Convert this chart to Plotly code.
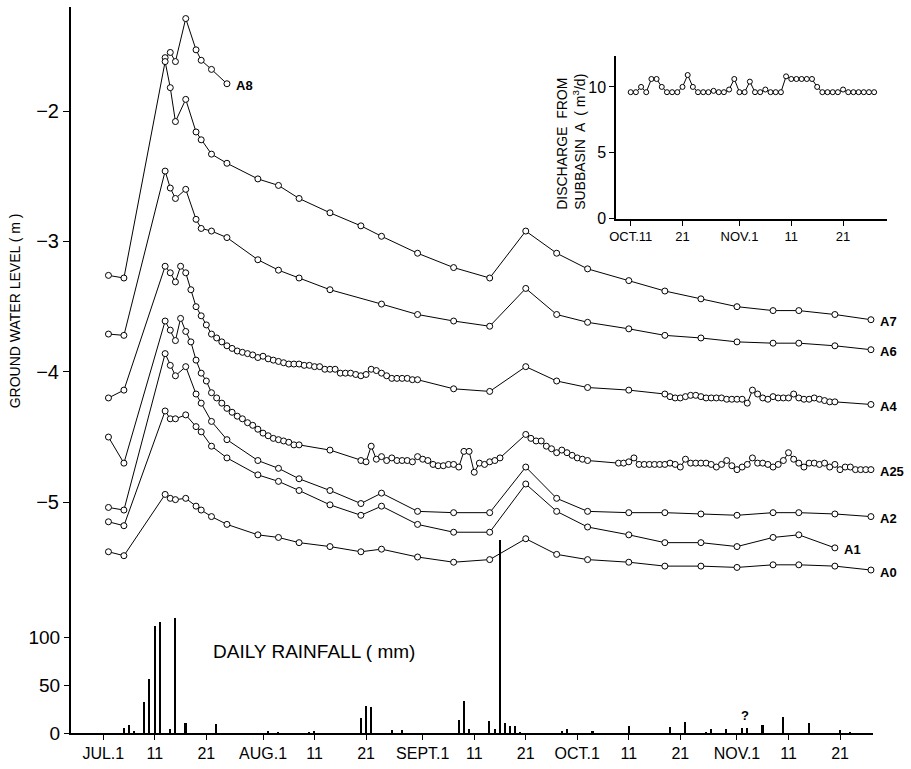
import plotly.graph_objects as go
import pandas as pd

YEAR = 1979
FONT = "Liberation Sans, Arial, sans-serif"

# ---------------- ground-water level (m) : common observation days ----------------
OBS_DATES = ["07-02", "07-05", "07-13", "07-14", "07-15", "07-17", "07-19", "07-20", "07-22", "07-25",
             "07-31", "08-04", "08-08", "08-14", "08-20", "08-24", "08-31", "09-07", "09-14", "09-21",
             "09-27", "10-03", "10-11", "10-18", "10-25", "11-01", "11-08", "11-13", "11-20", "11-27"]

A7 = [-3.26, -3.28, -1.62, -1.82, -2.08, -1.91, -2.16, -2.22, -2.33, -2.40,
      -2.52, -2.57, -2.67, -2.78, -2.88, -2.96, -3.09, -3.20, -3.28, -2.92,
      -3.09, -3.21, -3.30, -3.38, -3.44, -3.50, -3.53, -3.53, -3.56, -3.60]
A6 = [-3.71, -3.72, -2.46, -2.59, -2.67, -2.60, -2.83, -2.90, -2.92, -2.97,
      -3.14, -3.22, -3.28, -3.37, None, -3.48, -3.56, -3.61, -3.65, -3.36,
      -3.56, -3.62, -3.67, -3.72, -3.74, -3.77, -3.78, -3.78, -3.80, -3.83]
A2 = [-5.04, -5.06, -3.86, -3.95, -4.03, -3.96, -4.17, -4.24, -4.38, -4.52,
      -4.68, -4.74, -4.82, -4.91, -5.01, -4.93, -5.07, -5.08, -5.08, -4.73,
      -4.97, -5.07, -5.08, -5.08, -5.09, -5.10, -5.08, -5.08, -5.09, -5.11]
A1 = [-5.15, -5.18, -4.30, -4.36, -4.36, -4.33, -4.42, -4.46, -4.57, -4.66,
      -4.79, -4.84, -4.91, -5.02, -5.10, -5.03, -5.17, -5.23, -5.23, -4.86,
      -5.07, -5.19, -5.25, -5.31, -5.31, -5.34, -5.27, -5.25, -5.35, None]
A0 = [-5.38, -5.41, -4.94, -4.97, -4.98, -4.97, -5.03, -5.06, -5.11, -5.17,
      -5.25, -5.27, -5.31, -5.34, -5.38, -5.36, -5.42, -5.46, -5.44, -5.28,
      -5.40, -5.44, -5.46, -5.49, -5.49, -5.50, -5.48, -5.48, -5.49, -5.52]

A8_DATES = ["07-13", "07-14", "07-15", "07-17", "07-19", "07-20", "07-22", "07-25"]
A8 = [-1.59, -1.55, -1.62, -1.29, -1.53, -1.61, -1.68, -1.79]

# A4 : sparse + daily segments
A4_EARLY_DATES = ["07-02", "07-05"]
A4_EARLY = [-4.20, -4.14]
A4_JUL_START = "07-13"          # daily readings
A4_JUL = [-3.19, -3.24, -3.31, -3.19, -3.24, -3.37, -3.50, -3.57, -3.64, -3.71,
          -3.74, -3.77, -3.80, -3.82, -3.84, -3.85, -3.86, -3.87, -3.89, -3.88,
          -3.90, -3.91, -3.92, -3.93, -3.94, -3.94, -3.94, -3.95, -3.95, -3.96,
          -3.96, -3.98, -3.98, -3.98, -4.01, -4.01, -4.01, -4.02, -4.03, -4.02,
          -3.98, -3.99, -4.01, -4.03, -4.05, -4.05, -4.05, -4.05, -4.06, -4.06]
A4_MID_DATES = ["09-07", "09-14", "09-21", "09-27", "10-03", "10-11"]
A4_MID = [-4.13, -4.15, -3.96, -4.07, -4.12, -4.14]
A4_OCT_START = "10-18"          # daily readings
A4_OCT = [-4.17, -4.19, -4.20, -4.20, -4.19, -4.18, -4.18, -4.19, -4.20, -4.20,
          -4.20, -4.20, -4.21, -4.21, -4.21, -4.21, -4.24, -4.14, -4.17, -4.20,
          -4.21, -4.19, -4.20, -4.20, -4.20, -4.17, -4.20, -4.21, -4.21, -4.20,
          -4.21, -4.22, -4.23, -4.23]
A4_LAST_DATES = ["11-27"]
A4_LAST = [-4.25]

# A25 : sparse + daily segments
A25_EARLY_DATES = ["07-02", "07-05"]
A25_EARLY = [-4.50, -4.70]
A25_JUL_START = "07-13"
A25_JUL = [-3.61, -3.68, -3.76, -3.59, -3.69, -3.77, -3.91, -4.01, -4.07, -4.16,
           -4.20, -4.24, -4.28, -4.31, -4.34, -4.36, -4.39, -4.41, -4.44, -4.47,
           -4.49, -4.51, -4.52, -4.53, -4.54, -4.56, -4.56]
A25_MID_DATES = ["08-14"]
A25_MID = [-4.60]
A25_AUG_START = "08-20"
A25_AUG = [-4.68, -4.69, -4.57, -4.67, -4.65, -4.68, -4.66, -4.68, -4.68, -4.68,
           -4.69, -4.65, -4.67, -4.68, -4.71, -4.72, -4.72, -4.71, -4.71, -4.73,
           -4.61, -4.61, -4.77, -4.70, -4.71, -4.69, -4.68, -4.66]
A25_SEP_START = "09-21"
A25_SEP = [-4.48, -4.51, -4.53, -4.53, -4.57, -4.59, -4.62, -4.60, -4.62, -4.64,
           -4.66, -4.67, -4.68]
A25_OCT_START = "10-09"
A25_OCT = [-4.70, -4.70, -4.69, -4.66, -4.71, -4.71, -4.71, -4.71, -4.71, -4.71,
           -4.70, -4.71, -4.73, -4.67, -4.70, -4.70, -4.70, -4.70, -4.71, -4.73,
           -4.71, -4.68, -4.72, -4.75, -4.73, -4.71, -4.66, -4.70, -4.70, -4.71,
           -4.73, -4.71, -4.68, -4.62, -4.67, -4.70, -4.73, -4.70, -4.70, -4.71,
           -4.70, -4.73, -4.71, -4.75, -4.73, -4.73, -4.75, -4.75, -4.75, -4.75]

# ---------------- daily rainfall (mm) ----------------
RAIN_DATES = ["07-05", "07-06", "07-07", "07-09", "07-10", "07-11", "07-12", "07-14", "07-15", "07-17",
              "07-23", "08-02", "08-04", "08-10", "08-11", "08-20", "08-21", "08-22", "08-26", "08-28",
              "09-08", "09-09", "09-10", "09-14", "09-15", "09-16", "09-17", "09-18", "09-19", "09-20",
              "09-28", "09-29", "10-04", "10-11", "10-19", "10-22", "10-26", "10-27", "10-30", "11-02",
              "11-03", "11-06", "11-10", "11-15", "11-21", "11-23"]
RAIN = [5, 8, 2, 32, 57, 112, 116, 4, 120, 11,
        9, 2, 1, 1, 2, 16, 28, 27, 3, 3,
        14, 33, 4, 13, 4, 202, 10, 7, 7, 1,
        2, 4, 2, 7, 6, 12, 1, 4, 4, 5,
        5, 8, 17, 11, 3, 1]
RAIN_QUERY_DATE = "11-02 12:00"   # the "?" mark

# ---------------- discharge from subbasin A (m3/d), daily ----------------
Q_START = "10-11"
Q = [9.6, 9.6, 10.0, 9.6, 10.6, 10.6, 10.0, 9.6, 9.6, 9.6,
     10.0, 10.9, 10.0, 9.6, 9.6, 9.6, 9.7, 9.6, 9.6, 9.8,
     10.6, 9.6, 9.6, 10.4, 9.6, 9.6, 9.8, 9.6, 9.6, 9.6,
     10.8, 10.6, 10.6, 10.6, 10.6, 10.6, 10.0, 9.6, 9.6, 9.6,
     9.6, 9.8, 9.6, 9.6, 9.6, 9.6, 9.6, 9.6]

# ---------------- ticks ----------------
MAIN_TICK_DATES = ["07-01", "07-11", "07-21", "08-01", "08-11", "08-21", "09-01", "09-11",
                   "09-21", "10-01", "10-11", "10-21", "11-01", "11-11", "11-21"]
MAIN_TICK_TEXT = ["JUL.1", "11", "21", "AUG.1", "11", "21", "SEPT.1", "11",
                  "21", "OCT.1", "11", "21", "NOV.1", "11", "21"]
INSET_TICK_DATES = ["10-11", "10-21", "11-01", "11-11", "11-21"]
INSET_TICK_TEXT = ["OCT.11", "21", "NOV.1", "11", "21"]
GWL_TICKS = [-2, -3, -4, -5]
GWL_TICK_TEXT = ["\u22122", "\u22123", "\u22124", "\u22125"]
RAIN_TICKS = [0, 50, 100]
Q_TICKS = [0, 5, 10]


def md(lst):
    return [f"{YEAR}-{d}" for d in lst]


def daily(start, n):
    return [d.strftime("%Y-%m-%d") for d in pd.date_range(f"{YEAR}-{start}", periods=n, freq="D")]


A4_X = (md(A4_EARLY_DATES) + daily(A4_JUL_START, len(A4_JUL)) + md(A4_MID_DATES)
        + daily(A4_OCT_START, len(A4_OCT)) + md(A4_LAST_DATES))
A4_Y = A4_EARLY + A4_JUL + A4_MID + A4_OCT + A4_LAST
A25_X = (md(A25_EARLY_DATES) + daily(A25_JUL_START, len(A25_JUL)) + md(A25_MID_DATES)
         + daily(A25_AUG_START, len(A25_AUG)) + daily(A25_SEP_START, len(A25_SEP))
         + daily(A25_OCT_START, len(A25_OCT)))
A25_Y = A25_EARLY + A25_JUL + A25_MID + A25_AUG + A25_SEP + A25_OCT

SERIES = [
    ("A8", md(A8_DATES), A8),
    ("A7", md(OBS_DATES), A7),
    ("A6", md(OBS_DATES), A6),
    ("A4", A4_X, A4_Y),
    ("A25", A25_X, A25_Y),
    ("A2", md(OBS_DATES), A2),
    ("A1", md(OBS_DATES), A1),
    ("A0", md(OBS_DATES), A0),
]

W, H = 911, 769
L, R, T, B = 71, 21, 7, 32
PW, PH = W - L - R, H - T - B


def px(xp):
    return (xp - L) / PW


def py(yp):
    return (H - B - yp) / PH


fig = go.Figure()

# rainfall bars (bottom axis)
fig.add_trace(go.Bar(
    x=md(RAIN_DATES), y=RAIN, xaxis="x", yaxis="y2",
    marker=dict(color="black", line=dict(width=0)),
    width=0.3 * 86400000, showlegend=False, hoverinfo="x+y"))

marker_style = dict(symbol="circle", size=6, color="white", line=dict(color="black", width=1))
for name, xs, ys in SERIES:
    fig.add_trace(go.Scatter(
        x=xs, y=ys, mode="lines+markers", name=name, connectgaps=True,
        line=dict(color="black", width=1), marker=marker_style,
        cliponaxis=False, xaxis="x", yaxis="y", showlegend=False))

# inset discharge
fig.add_trace(go.Scatter(
    x=daily(Q_START, len(Q)), y=Q, mode="lines+markers", xaxis="x3", yaxis="y3",
    line=dict(color="black", width=1),
    marker=dict(symbol="circle", size=5, color="white", line=dict(color="black", width=1)),
    cliponaxis=False, showlegend=False))

annotations = []
for name, xs, ys in SERIES:
    last = max(i for i, v in enumerate(ys) if v is not None)
    annotations.append(dict(
        x=xs[last], y=ys[last], xref="x", yref="y", text=f"<b>{name}</b>",
        showarrow=False, xanchor="left", yanchor="middle", xshift=7, yshift=-2,
        font=dict(family=FONT, size=13, color="black")))

annotations += [
    dict(x=f"{YEAR}-07-22", y=85, xref="x", yref="y2", text="DAILY RAINFALL ( mm)",
         showarrow=False, xanchor="left", yanchor="middle",
         font=dict(family=FONT, size=19, color="black")),
    dict(x=f"{YEAR}-{RAIN_QUERY_DATE}", y=18, xref="x", yref="y2", text="<b>?</b>",
         showarrow=False, xanchor="center", yanchor="middle",
         font=dict(family=FONT, size=13, color="black")),
    dict(x=px(15), y=py(313), xref="paper", yref="paper", text="GROUND WATER LEVEL ( m )",
         textangle=-90, showarrow=False, xanchor="center", yanchor="middle",
         font=dict(family=FONT, size=14, color="black")),
    dict(x=px(571), y=py(213), xref="paper", yref="paper",
         text="DISCHARGE  FROM<br>SUBBASIN  A  ( m<sup>3</sup>/d)", align="left",
         textangle=-90, showarrow=False, xanchor="center", yanchor="bottom",
         font=dict(family=FONT, size=14, color="black")),
]

axis_common = dict(showgrid=False, zeroline=False, color="black", tickcolor="black",
                   ticks="outside", linecolor="black")

fig.update_layout(
    width=W, height=H, autosize=False,
    margin=dict(l=L, r=R, t=T, b=B, pad=0),
    paper_bgcolor="white", plot_bgcolor="white",
    font=dict(family=FONT, color="black"),
    showlegend=False, bargap=0,
    xaxis=dict(**axis_common, type="date", domain=[0, px(873)],
               range=[f"{YEAR}-06-24 17:31", f"{YEAR}-11-27 09:36"],
               anchor="y", showline=True, linewidth=1.5, ticklen=5,
               tickvals=md(MAIN_TICK_DATES), ticktext=MAIN_TICK_TEXT,
               tickfont=dict(family=FONT, size=16)),
    yaxis=dict(**axis_common, domain=[0, 1], range=[-6.770, -1.2014], anchor="x",
               showline=True, linewidth=2, ticklen=6,
               tickvals=GWL_TICKS, ticktext=GWL_TICK_TEXT,
               tickfont=dict(family=FONT, size=20)),
    yaxis2=dict(**axis_common, overlaying="y", anchor="x", side="left",
                range=[0, 760.4], showline=False, ticklen=6,
                tickvals=RAIN_TICKS, tickfont=dict(family=FONT, size=19)),
    xaxis3=dict(**axis_common, type="date", domain=[px(616), px(887)],
                range=[f"{YEAR}-10-08 03:53", f"{YEAR}-11-29 11:34"], anchor="y3",
                showline=True, linewidth=1.5, ticklen=5,
                tickvals=md(INSET_TICK_DATES), ticktext=INSET_TICK_TEXT,
                tickfont=dict(family=FONT, size=13)),
    yaxis3=dict(**axis_common, domain=[py(220), py(56.7)], range=[0, 12.31], anchor="x3",
                showline=True, linewidth=1.5, ticklen=5,
                tickvals=Q_TICKS, tickfont=dict(family=FONT, size=16)),
    annotations=annotations,
)

fig.write_html(
    "out.html",
    config={"displayModeBar": False},
    post_script="document.body.style.margin='0';document.body.style.overflow='hidden';",
)
